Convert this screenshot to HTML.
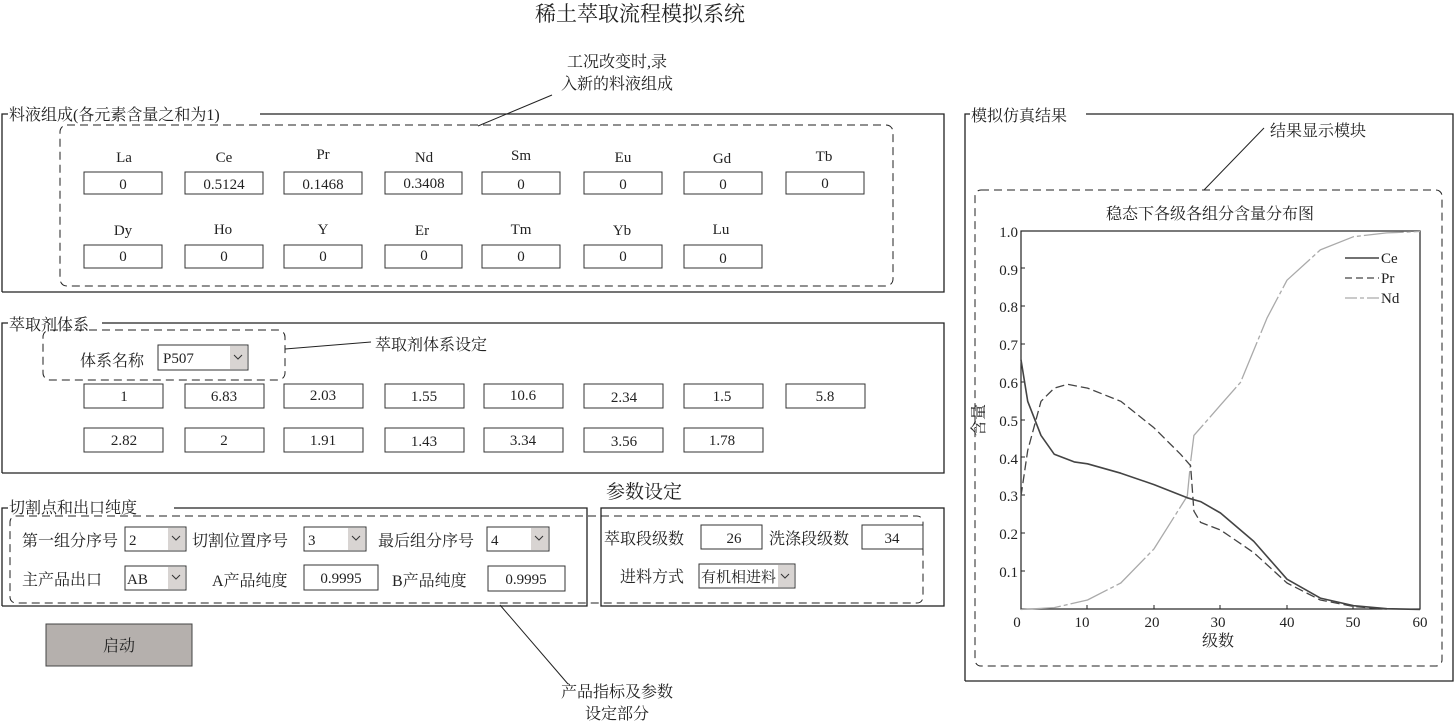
<!DOCTYPE html>
<html><head><meta charset="utf-8"><style>
html,body{margin:0;padding:0;background:#fff;}
svg{display:block;}
text{font-family:"Liberation Serif","Noto Serif CJK SC",serif;fill:#222;}
</style></head><body>
<svg width="1455" height="722" viewBox="0 0 1455 722" xmlns="http://www.w3.org/2000/svg">
<rect width="1455" height="722" fill="#fff"/>
<text x="640" y="21" font-size="21" text-anchor="middle">稀土萃取流程模拟系统</text>

<!-- Panel 1 -->
<path d="M2 292 V114 H8 M260 114 H944 V292 H2" fill="none" stroke="#222" stroke-width="1.3"/>
<text x="9" y="120" font-size="16">料液组成(各元素含量之和为1)</text>
<rect x="60" y="125" width="833" height="161" rx="7" fill="none" stroke="#222" stroke-dasharray="8,5"/>
<text x="617" y="67" font-size="16" text-anchor="middle">工况改变时,录</text>
<text x="617" y="89" font-size="16" text-anchor="middle">入新的料液组成</text>
<line x1="552" y1="95" x2="478" y2="126" stroke="#222"/>
<g font-size="15" text-anchor="middle">
<text x="124" y="162">La</text><text x="224" y="162">Ce</text><text x="323" y="159">Pr</text><text x="424" y="162">Nd</text>
<text x="521" y="160">Sm</text><text x="623" y="162">Eu</text><text x="722" y="163">Gd</text><text x="824" y="161">Tb</text>
<text x="123" y="235">Dy</text><text x="223" y="234">Ho</text><text x="323" y="234">Y</text><text x="422" y="235">Er</text>
<text x="521" y="234">Tm</text><text x="622" y="235">Yb</text><text x="721" y="234">Lu</text>
</g>
<g fill="#fff" stroke="#333">
<rect x="84" y="172" width="78" height="22"/><rect x="185" y="172" width="78" height="22"/><rect x="284" y="172" width="78" height="22"/><rect x="385" y="172" width="77" height="22"/>
<rect x="482" y="172" width="78" height="22"/><rect x="584" y="172" width="78" height="22"/><rect x="684" y="172" width="78" height="22"/><rect x="786" y="172" width="78" height="22"/>
<rect x="84" y="245" width="78" height="23"/><rect x="185" y="245" width="78" height="23"/><rect x="284" y="245" width="78" height="23"/><rect x="385" y="245" width="77" height="23"/>
<rect x="482" y="245" width="78" height="23"/><rect x="584" y="245" width="78" height="23"/><rect x="684" y="245" width="78" height="23"/>
</g>
<g font-size="15" text-anchor="middle">
<text x="123" y="189">0</text><text x="224" y="189">0.5124</text><text x="323" y="189">0.1468</text><text x="424" y="188">0.3408</text>
<text x="521" y="189">0</text><text x="623" y="189">0</text><text x="723" y="189">0</text><text x="825" y="188">0</text>
<text x="123" y="261">0</text><text x="224" y="261">0</text><text x="323" y="261">0</text><text x="424" y="260">0</text>
<text x="521" y="261">0</text><text x="623" y="261">0</text><text x="723" y="263">0</text>
</g>

<!-- Panel 2 -->
<path d="M2 473 V323 H8 M102 323 H944 V473 H2" fill="none" stroke="#222" stroke-width="1.3"/>
<text x="9" y="330" font-size="16">萃取剂体系</text>
<rect x="43" y="330" width="242" height="50" rx="7" fill="none" stroke="#222" stroke-dasharray="8,5"/>
<text x="80" y="366" font-size="16">体系名称</text>
<rect x="158" y="345" width="90" height="25" fill="#fff" stroke="#333"/>
<rect x="230" y="346" width="17" height="23" fill="#d8d4d2"/>
<text x="163" y="363" font-size="15">P507</text>
<path d="M234 355 L238 359 L242 355" fill="none" stroke="#333"/>
<line x1="285" y1="349" x2="371" y2="342" stroke="#222"/>
<text x="375" y="350" font-size="16">萃取剂体系设定</text>
<g fill="#fff" stroke="#333">
<rect x="84" y="384" width="79" height="24"/><rect x="185" y="384" width="79" height="24"/><rect x="284" y="384" width="79" height="24"/><rect x="385" y="384" width="79" height="24"/>
<rect x="484" y="384" width="79" height="24"/><rect x="584" y="384" width="79" height="24"/><rect x="684" y="384" width="79" height="24"/><rect x="786" y="384" width="79" height="24"/>
<rect x="84" y="428" width="79" height="24"/><rect x="185" y="428" width="79" height="24"/><rect x="284" y="428" width="79" height="24"/><rect x="385" y="428" width="79" height="24"/>
<rect x="484" y="428" width="79" height="24"/><rect x="584" y="428" width="79" height="24"/><rect x="684" y="428" width="79" height="24"/>
</g>
<g font-size="15" text-anchor="middle">
<text x="124" y="401">1</text><text x="224" y="401">6.83</text><text x="323" y="400">2.03</text><text x="424" y="401">1.55</text>
<text x="523" y="400">10.6</text><text x="624" y="402">2.34</text><text x="722" y="401">1.5</text><text x="825" y="401">5.8</text>
<text x="124" y="445">2.82</text><text x="224" y="445">2</text><text x="323" y="445">1.91</text><text x="424" y="446">1.43</text>
<text x="523" y="445">3.34</text><text x="624" y="446">3.56</text><text x="722" y="445">1.78</text>
</g>

<!-- Panel 3 & 4 -->
<text x="606" y="498" font-size="19">参数设定</text>
<path d="M2 606 V508 H8 M174 508 H587 V606 H2" fill="none" stroke="#222" stroke-width="1.3"/>
<text x="9" y="513" font-size="16">切割点和出口纯度</text>
<rect x="601" y="508" width="343" height="98" fill="none" stroke="#222" stroke-width="1.3"/>
<rect x="10" y="516" width="913" height="87" rx="6" fill="none" stroke="#222" stroke-dasharray="8,5"/>
<g font-size="16">
<text x="22" y="546">第一组分序号</text><text x="192" y="546">切割位置序号</text><text x="378" y="546">最后组分序号</text>
<text x="22" y="585">主产品出口</text><text x="212" y="586">A产品纯度</text><text x="392" y="586">B产品纯度</text>
<text x="604" y="544">萃取段级数</text><text x="769" y="544">洗涤段级数</text><text x="620" y="582">进料方式</text>
</g>
<g fill="#fff" stroke="#333">
<rect x="125" y="527" width="61" height="24"/><rect x="304" y="527" width="62" height="24"/><rect x="487" y="527" width="62" height="24"/>
<rect x="125" y="566" width="61" height="24"/><rect x="304" y="565" width="74" height="25"/><rect x="488" y="566" width="77" height="25"/>
<rect x="701" y="525" width="61" height="24"/><rect x="862" y="525" width="61" height="24"/><rect x="699" y="564" width="96" height="24"/>
</g>
<g fill="#d8d4d2">
<rect x="168" y="528" width="17" height="22"/><rect x="348" y="528" width="17" height="22"/><rect x="531" y="528" width="17" height="22"/>
<rect x="168" y="567" width="17" height="22"/><rect x="778" y="565" width="16" height="22"/>
</g>
<g fill="none" stroke="#333">
<path d="M172 536 L176 540 L180 536"/><path d="M352 536 L356 540 L360 536"/><path d="M535 536 L539 540 L543 536"/>
<path d="M172 575 L176 579 L180 575"/><path d="M781 574 L785 578 L789 574"/>
</g>
<g font-size="15">
<text x="129" y="545">2</text><text x="308" y="545">3</text><text x="491" y="545">4</text><text x="127" y="584">AB</text>
<text x="701" y="582" font-size="15">有机相进料</text>
</g>
<g font-size="15" text-anchor="middle">
<text x="341" y="583">0.9995</text><text x="526" y="584">0.9995</text><text x="734" y="543">26</text><text x="892" y="543">34</text>
</g>
<rect x="46" y="624" width="146" height="42" fill="#b5b0ad" stroke="#444"/>
<text x="119" y="651" font-size="16" text-anchor="middle">启动</text>
<line x1="500" y1="605" x2="568" y2="684" stroke="#222"/>
<text x="617" y="697" font-size="16" text-anchor="middle">产品指标及参数</text>
<text x="617" y="719" font-size="16" text-anchor="middle">设定部分</text>

<!-- Right panel -->
<path d="M965 681 V114 H970 M1086 114 H1453 V681 H965" fill="none" stroke="#222" stroke-width="1.3"/>
<text x="971" y="121" font-size="16">模拟仿真结果</text>
<text x="1270" y="136" font-size="16">结果显示模块</text>
<line x1="1264" y1="128" x2="1204" y2="190" stroke="#222"/>
<rect x="975" y="190" width="467" height="476" rx="6" fill="none" stroke="#222" stroke-dasharray="8,5"/>
<text x="1210" y="219" font-size="16" text-anchor="middle">稳态下各级各组分含量分布图</text>
<rect x="1021" y="231" width="399" height="378" fill="none" stroke="#222" stroke-width="1.2"/>
<g stroke="#222">
<line x1="1021" y1="571" x2="1025" y2="571"/><line x1="1021" y1="533" x2="1025" y2="533"/><line x1="1021" y1="495" x2="1025" y2="495"/>
<line x1="1021" y1="457" x2="1025" y2="457"/><line x1="1021" y1="420" x2="1025" y2="420"/><line x1="1021" y1="382" x2="1025" y2="382"/>
<line x1="1021" y1="344" x2="1025" y2="344"/><line x1="1021" y1="306" x2="1025" y2="306"/><line x1="1021" y1="268" x2="1025" y2="268"/>
<line x1="1087" y1="609" x2="1087" y2="605"/><line x1="1154" y1="609" x2="1154" y2="605"/><line x1="1220" y1="609" x2="1220" y2="605"/>
<line x1="1287" y1="609" x2="1287" y2="605"/><line x1="1353" y1="609" x2="1353" y2="605"/>
</g>
<g font-size="15" text-anchor="end">
<text x="1018" y="237">1.0</text><text x="1018" y="275">0.9</text><text x="1018" y="312">0.8</text><text x="1018" y="350">0.7</text>
<text x="1018" y="388">0.6</text><text x="1018" y="426">0.5</text><text x="1018" y="464">0.4</text><text x="1018" y="501">0.3</text>
<text x="1018" y="539">0.2</text><text x="1018" y="577">0.1</text>
</g>
<g font-size="15" text-anchor="middle">
<text x="1017" y="627">0</text><text x="1082" y="627">10</text><text x="1152" y="627">20</text><text x="1218" y="627">30</text>
<text x="1287" y="627">40</text><text x="1353" y="627">50</text><text x="1420" y="627">60</text>
</g>
<text x="1218" y="646" font-size="16" text-anchor="middle">级数</text>
<text transform="translate(984,420) rotate(-90)" font-size="16" text-anchor="middle">含量</text>
<polyline fill="none" stroke="#aaa" stroke-width="1.3" stroke-dasharray="40,3,4,3" stroke-linejoin="round" points="1021,609.5 1054.3,607.6 1087.5,600 1120.8,583 1154,548.9 1187.3,496 1190.6,461.9 1193.9,435.4 1207.2,420.3 1220.5,405.1 1240.5,382.4 1267,318.1 1287,280.2 1320.3,249.9 1353.5,236.7 1386.8,232.9 1420,231.5"/>
<polyline fill="none" stroke="#444" stroke-width="1.3" stroke-dasharray="9,4" stroke-linejoin="round" points="1021,496 1027.7,450.5 1041,401.3 1054.3,388.1 1067.6,384.3 1087.5,388.1 1120.8,401.3 1154,427.8 1180.6,454.3 1190.6,465.7 1193.9,511.1 1200.6,522.4 1220.5,530 1253.8,552.7 1287,583 1320.3,600 1353.5,606.5 1386.8,609.1"/>
<polyline fill="none" stroke="#444" stroke-width="1.6" stroke-linejoin="round" points="1021,359.7 1027.7,401.3 1041,435.4 1054.3,454.3 1074.2,461.9 1087.5,463.8 1120.8,473.2 1154,484.6 1187.3,497.8 1200.6,501.6 1220.5,513 1253.8,541.4 1287,579.2 1320.3,598.1 1353.5,605.7 1386.8,608.7 1420,609.5"/>
<line x1="1345" y1="258" x2="1379" y2="258" stroke="#444" stroke-width="1.6"/>
<line x1="1345" y1="278" x2="1379" y2="278" stroke="#444" stroke-width="1.3" stroke-dasharray="7,4"/>
<line x1="1345" y1="298" x2="1379" y2="298" stroke="#aaa" stroke-width="1.3" stroke-dasharray="12,3,4,3"/>
<g font-size="15"><text x="1381" y="263">Ce</text><text x="1381" y="283">Pr</text><text x="1381" y="303">Nd</text></g>
</svg>
</body></html>
